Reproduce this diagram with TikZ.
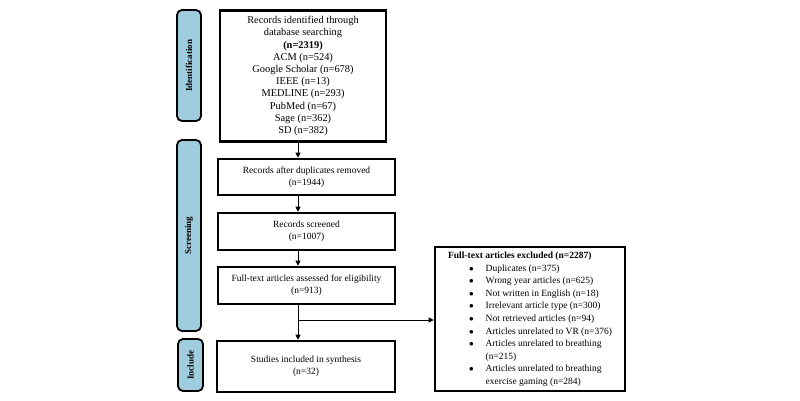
\documentclass[tikz,border=0pt]{standalone}
\usepackage{fontspec}
\setmainfont{Liberation Serif}
\usepackage{xcolor}
\usepackage{tikz}
\usetikzlibrary{arrows.meta, positioning}

\definecolor{stageblue}{RGB}{160,205,222}

\begin{document}
\begin{tikzpicture}[
    x=1pt, y=-1pt,
    box/.style={rectangle, draw, line width=2.6pt, align=center,
                font=\fontsize{9.5}{12.2}\selectfont, inner sep=2pt},
    stage/.style={rectangle, draw, line width=1.8pt, rounded corners=5pt,
                  fill=stageblue, font=\fontsize{9}{10}\selectfont\bfseries},
    arrow/.style={-{Triangle[length=5pt,width=5pt]}, line width=0.8pt},
]
\useasboundingbox (0,0) rectangle (800,400);

% stage bars (left)
\node[stage, minimum width=24pt, minimum height=111pt] (ident) at (189,65.5)
    {\rotatebox{90}{Identification}};
\node[stage, minimum width=24pt, minimum height=191pt] (screen) at (189,235.5)
    {\rotatebox{90}{Screening}};
\node[stage, minimum width=25pt, minimum height=52pt] (incl) at (190.5,365)
    {\rotatebox{90}{Include}};

% flow boxes
\node[box, minimum width=166pt, minimum height=131pt,
      font=\fontsize{10.4}{12.2}\selectfont] (found) at (303,76)
    {Records identified through\\database searching\\\textbf{(n=2319)}\\
     ACM (n=524)\\Google Scholar (n=678)\\IEEE (n=13)\\MEDLINE (n=293)\\
     PubMed (n=67)\\Sage (n=362)\\SD (n=382)};
\node[box, minimum width=177pt, minimum height=36pt] (dedup) at (306.5,177)
    {Records after duplicates removed\\(n=1944)};
\node[box, minimum width=177pt, minimum height=37pt] (screened) at (306.5,231.5)
    {Records screened\\(n=1007)};
\node[box, minimum width=177pt, minimum height=37pt] (fulltext) at (306.5,285.5)
    {Full-text articles assessed for eligibility\\(n=913)};
\node[box, minimum width=178pt, minimum height=51pt] (included) at (306,366.5)
    {Studies included in synthesis\\(n=32)};

% excluded box
\node[box, minimum width=190pt, minimum height=144pt, align=left,
      font=\fontsize{9.5}{12.6}\selectfont] (excluded) at (530,319)
    {\begin{tabular}{@{}l@{}}
     \textbf{Full-text articles excluded (n=2287)}\\
     \begin{tabular}{@{\hspace{21pt}}l@{\hspace{12pt}}l@{}}
     $\bullet$ & Duplicates (n=375)\\
     $\bullet$ & Wrong year articles (n=625)\\
     $\bullet$ & Not written in English (n=18)\\
     $\bullet$ & Irrelevant article type (n=300)\\
     $\bullet$ & Not retrieved articles (n=94)\\
     $\bullet$ & Articles unrelated to VR (n=376)\\
     $\bullet$ & Articles unrelated to breathing\\
               & (n=215)\\
     $\bullet$ & Articles unrelated to breathing\\
               & exercise gaming (n=284)
     \end{tabular}
     \end{tabular}};

% arrows
\coordinate (spine) at (298,0);
\coordinate (split) at (298,320);
\draw[arrow] (found.south -| spine) -- (dedup.north -| spine);
\draw[arrow] (dedup.south -| spine) -- (screened.north -| spine);
\draw[arrow] (screened.south -| spine) -- (fulltext.north -| spine);
\draw[arrow] (fulltext.south -| spine) -- (included.north -| spine);
\draw[arrow] (split) -- (split -| excluded.west);

\end{tikzpicture}
\end{document}
